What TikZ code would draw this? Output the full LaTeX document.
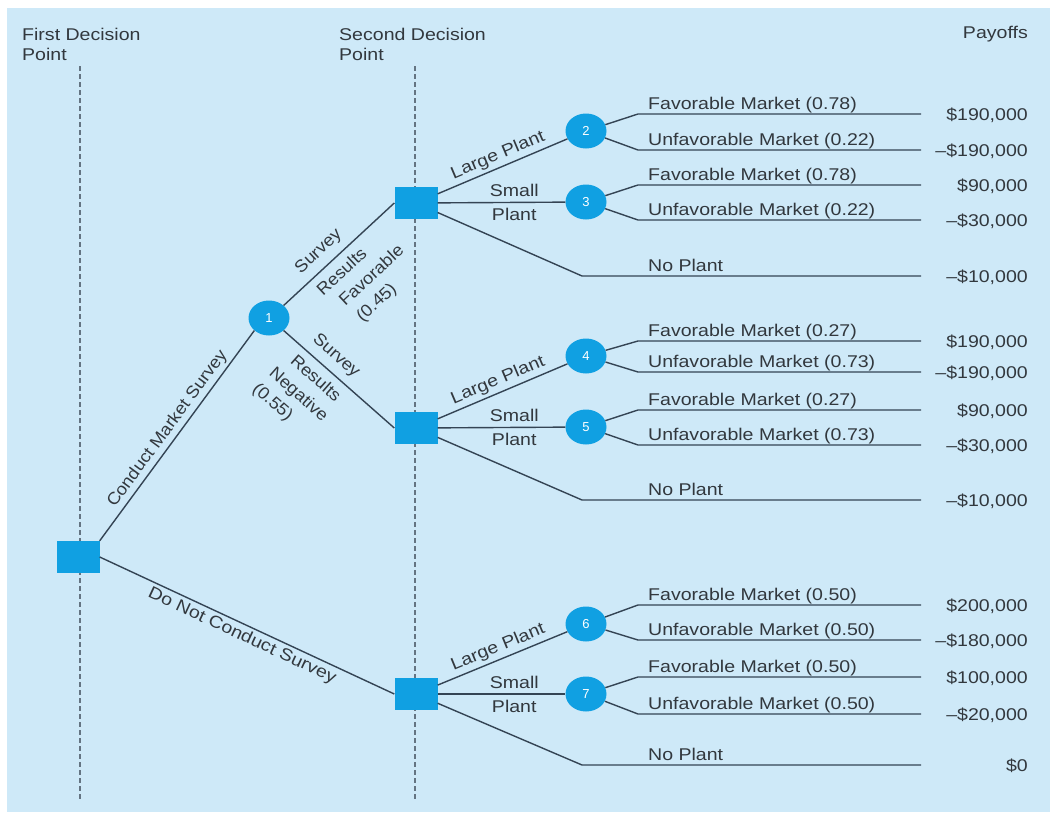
\documentclass[tikz,border=0pt]{standalone}
\usepackage{fontspec}
\setmainfont{Liberation Sans}
\newfontfamily\wideface[FakeStretch=1.15]{Liberation Sans}
\newfontfamily\midface[FakeStretch=1.07]{Liberation Sans}
\usetikzlibrary{shapes.geometric}

\definecolor{bgblue}{RGB}{206,233,248}
\definecolor{nodeblue}{RGB}{16,160,226}
\definecolor{branch}{RGB}{52,68,84}
\definecolor{guide}{RGB}{100,116,130}
\definecolor{ink}{RGB}{50,56,62}

\begin{document}
\begin{tikzpicture}[x=1pt,y=-1pt,
  decision/.style={fill=nodeblue, minimum width=43pt, minimum height=32pt, inner sep=0pt},
  chance/.style={ellipse, fill=nodeblue, minimum width=41pt, minimum height=35pt,
    inner sep=0pt, text=white, font=\fontsize{13}{13}\selectfont},
  branchline/.style={draw=branch, line width=1.4pt},
  guideline/.style={draw=guide, line width=2pt, dash pattern=on 5pt off 3pt},
  lbl/.style={text=ink, font=\wideface\fontsize{17}{20}\selectfont, inner sep=0pt},
  slbl/.style={text=ink, font=\midface\fontsize{17}{23}\selectfont, inner xsep=0pt, inner ysep=7pt},
  wlbl/.style={text=ink, font=\wideface\fontsize{17}{20}\selectfont, inner sep=3pt}
]
\useasboundingbox (0,0) rectangle (1053,814);
\fill[white] (0,0) rectangle (1053,814);
\fill[bgblue] (7,8) rectangle (1050,812);

% column headers
\node[lbl, anchor=north west, align=left] (h1) at (22,28) {First Decision\\Point};
\node[lbl, anchor=north west, align=left] (h2) at (339,28) {Second Decision\\Point};
\node[lbl, anchor=base east] (h3) at (1028,38) {Payoffs};

% decision stage guides
\draw[guideline] (80,66) -- (80,800);
\draw[guideline] (415,66) -- (415,800);

% decision and chance nodes
\node[decision] (A) at (78,557) {};
\node[decision] (B) at (416,203) {};
\node[decision] (C) at (416,428) {};
\node[decision] (D) at (416,694) {};
\node[chance] (n1) at (269,318) {1};
\node[chance] (n2) at (586,131) {2};
\node[chance] (n3) at (586,202) {3};
\node[chance] (n4) at (586,356) {4};
\node[chance] (n5) at (586,427) {5};
\node[chance] (n6) at (586,624) {6};
\node[chance] (n7) at (586,694) {7};

% first decision
\draw[branchline] (A.north east) -- (n1.south west)
  node[wlbl, midway, above, sloped, font=\midface\fontsize{17}{20}\selectfont] {Conduct Market Survey};
\draw[branchline] (A.east) -- (D.west)
  node[wlbl, midway, below, sloped] {Do Not Conduct Survey};

% survey outcomes
\draw[branchline] (n1.north east) -- (B.west)
  node[slbl, sloped, pos=0.22, anchor=south west] {Survey}
  node[slbl, sloped, pos=0.23, anchor=north west, align=left]
    {Results\\\hspace*{9pt}Favorable\\\hspace*{11pt}(0.45)};
\draw[branchline] (n1.south east) -- (C.west)
  node[slbl, sloped, pos=0.185, anchor=south west] {Survey}
  node[slbl, sloped, pos=0.10, anchor=north west, align=left]
    {\hspace*{10pt}Results\\\hspace*{2pt}Negative\\(0.55)};

% second decision: plant size
\foreach \d/\lg/\sm/\np/\y/\pay in {B/n2/n3/1/276/{–\$10,000}, C/n4/n5/2/500/{–\$10,000}, D/n6/n7/3/765/{\$0}}{
  \draw[branchline] (\d) -- (\lg) node[wlbl, midway, above, sloped] {Large Plant};
  \draw[branchline] (\d) -- (\sm)
    node[lbl, pos=0.6, above=5pt] {Small}
    node[lbl, pos=0.6, below=5pt] {Plant};
  \coordinate (np\np) at (582,\y);
  \coordinate (npe\np) at (921,\y);
  \draw[branchline] (\d) -- (np\np) -- (npe\np);
  \node[lbl, anchor=base west] (npl\np) at (648,{\y-5}) {No Plant};
  \node[lbl, anchor=base east] (npp\np) at (1028,{\y+6}) {\pay};
}

% market outcomes and payoffs
\foreach \n/\u/\l/\pu/\pl/\vu/\vl in {
  2/114/150/0.78/0.22/{\$190,000}/{–\$190,000},
  3/185/220/0.78/0.22/{\$90,000}/{–\$30,000},
  4/341/372/0.27/0.73/{\$190,000}/{–\$190,000},
  5/410/445/0.27/0.73/{\$90,000}/{–\$30,000},
  6/605/640/0.50/0.50/{\$200,000}/{–\$180,000},
  7/677/714/0.50/0.50/{\$100,000}/{–\$20,000}}{
  \coordinate (u\n) at (638,\u);
  \coordinate (ue\n) at (921,\u);
  \coordinate (l\n) at (638,\l);
  \coordinate (le\n) at (921,\l);
  \draw[branchline] (n\n) -- (u\n) -- (ue\n);
  \draw[branchline] (n\n) -- (l\n) -- (le\n);
  \node[lbl, anchor=base west] (fu\n) at (648,{\u-5}) {Favorable Market (\pu)};
  \node[lbl, anchor=base west] (fl\n) at (648,{\l-5}) {Unfavorable Market (\pl)};
  \node[lbl, anchor=base east] (pu\n) at (1028,{\u+6}) {\vu};
  \node[lbl, anchor=base east] (pl\n) at (1028,{\l+6}) {\vl};
}
\end{tikzpicture}
\end{document}
